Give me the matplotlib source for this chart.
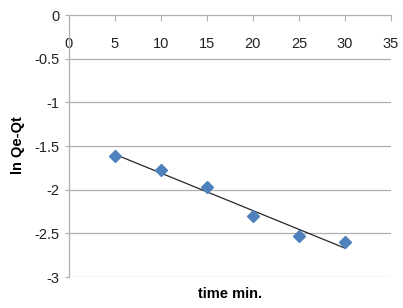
import numpy as np
import matplotlib
matplotlib.use("Agg")
import matplotlib.pyplot as plt

plt.rcParams["font.family"] = ["Liberation Sans Narrow", "Liberation Sans", "DejaVu Sans"]

time_min = [5, 10, 15, 20, 25, 30]
ln_qe_qt = [-1.615, -1.775, -1.97, -2.30, -2.53, -2.60]
x_ticks = [0, 5, 10, 15, 20, 25, 30, 35]
y_ticks = [0, -0.5, -1, -1.5, -2, -2.5, -3]

GRID = "#b0b0b0"

fig = plt.figure(figsize=(4.03, 3.08), dpi=100)
ax = fig.add_axes([0.171, 0.1006, 0.799, 0.8503])

# linear trendline like Excel
slope, icpt = np.polyfit(time_min, ln_qe_qt, 1)
xs = np.array([time_min[0], time_min[-1]])
ax.plot(xs, slope * xs + icpt, color="#262626", linewidth=0.9, zorder=3)
ax.plot(time_min, ln_qe_qt, linestyle="none", marker="D", markersize=6.5,
        color="#4f81bd", markeredgecolor="#4f81bd", zorder=4)

ax.set_xlim(0, 35)
ax.set_ylim(-3, 0)
ax.set_xticks(x_ticks)
ax.set_yticks(y_ticks)
ax.set_yticklabels([f"{v:g}" for v in y_ticks])

for y in y_ticks[1:]:
    ax.axhline(y, color=GRID, linewidth=0.9, zorder=1)

for s in ("top", "right"):
    ax.spines[s].set_visible(False)
ax.spines["bottom"].set_position(("data", 0))
ax.spines["bottom"].set_color(GRID)
ax.spines["left"].set_color(GRID)
ax.spines["bottom"].set_linewidth(0.9)
ax.spines["left"].set_linewidth(0.9)

ax.tick_params(axis="x", direction="out", length=4, color=GRID, pad=12,
               labelsize=10.5, labelcolor="#222222")
ax.tick_params(axis="y", direction="out", length=3, color=GRID, pad=4,
               labelsize=10.5, labelcolor="#222222")

fig.text(0.571, 0.045, "time min.", ha="center", va="center",
         fontsize=10.5, fontweight="bold")
fig.text(0.045, 0.53, "ln Qe-Qt", ha="center", va="center", rotation=90,
         fontsize=10.5, fontweight="bold")

fig.savefig("out.png", dpi=100)
